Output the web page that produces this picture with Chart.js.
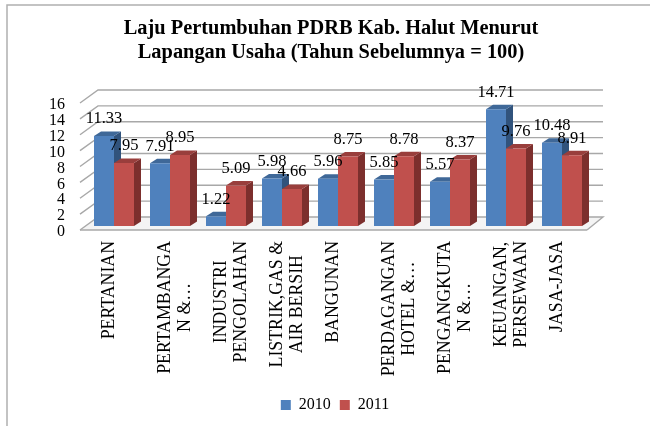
<!DOCTYPE html>
<html><head><meta charset="utf-8">
<style>html,body{margin:0;padding:0;background:#fff}#w{width:650px;height:426px}</style>
<script src="https://cdn.jsdelivr.net/npm/chart.js@4"></script></head>
<body><div id="w"><canvas id="c" width="650" height="426"></canvas></div>
<script>
const categories=[['PERTANIAN'],['PERTAMBANGA','N &…'],['INDUSTRI','PENGOLAHAN'],['LISTRIK,GAS &','AIR BERSIH'],['BANGUNAN'],['PERDAGANGAN','HOTEL &…'],['PENGANGKUTA','N &…'],['KEUANGAN,','PERSEWAAN'],['JASA-JASA']];
const values2010=[11.33,7.91,1.22,5.98,5.96,5.85,5.57,14.71,10.48];
const values2011=[7.95,8.95,5.09,4.66,8.75,8.78,8.37,9.76,8.91];
const seriesNames=['2010','2011'];
const titleLines=['Laju Pertumbuhan PDRB Kab. Halut Menurut','Lapangan Usaha (Tahun Sebelumnya = 100)'];
const FONT='"Liberation Serif",serif';
const CAT_SIZE=17.8;
const faces=[{side:'#31537c',top:'#3f6898'},{side:'#7c2f2d',top:'#993e3c'}];
const DX=7,DY=4.5;
function wrapLabels(scale,fn){const o=scale._computeLabelItems;scale._computeLabelItems=function(a){const items=o.call(this,a);fn(this,items);return items;};}
const scene={id:'scene',
 afterLayout(ch){if(ch.legend){ch.legend.left+=20;}if(ch.titleBlock){ch.titleBlock.left+=6;ch.titleBlock.right+=6;}},
 beforeDraw(ch){const c=ch.ctx;c.save();c.strokeStyle='#b0b0b0';c.lineWidth=1.5;c.beginPath();c.moveTo(7,426);c.lineTo(7,5);c.lineTo(650,5);c.stroke();c.restore();},
 beforeDatasetsDraw(ch){const c=ch.ctx,y=ch.scales.y,a=ch.chartArea;c.save();
  const lf=a.left-6,lb=a.left+12,rf=a.right-3,rb=a.right+13;
  c.fillStyle='#f4f4f4';const y0=y.getPixelForValue(0);
  c.beginPath();c.moveTo(lf,y0+4);c.lineTo(lb,y0-9);c.lineTo(rb,y0-9);c.lineTo(rf,y0+4);c.closePath();c.fill();
  c.lineWidth=1.4;c.strokeStyle='#a8a8a8';
  y.ticks.forEach(t=>{const p=y.getPixelForValue(t.value);c.beginPath();c.moveTo(lf,p+4);c.lineTo(lb,p-9);c.lineTo(rb,p-9);if(t.value===0)c.lineTo(rf,p+4);c.stroke();});
  c.beginPath();c.moveTo(lf,y0+4);c.lineTo(rf,y0+4);c.stroke();
  ch.data.datasets.forEach((d,i)=>{ch.getDatasetMeta(i).data.forEach(b=>{
    const l=b.x-b.width/2,r=b.x+b.width/2,t=b.y,bo=b.base;
    c.fillStyle=faces[i].side;c.beginPath();c.moveTo(r,t);c.lineTo(r+DX,t-DY);c.lineTo(r+DX,bo-DY);c.lineTo(r,bo);c.closePath();c.fill();
    c.fillStyle=faces[i].top;c.beginPath();c.moveTo(l,t);c.lineTo(l+DX,t-DY);c.lineTo(r+DX,t-DY);c.lineTo(r,t);c.closePath();c.fill();
  });});
  c.restore();},
 afterDatasetsDraw(ch){const c=ch.ctx;c.save();c.font='16.5px '+FONT;c.fillStyle='#000';c.textAlign='center';c.textBaseline='middle';
  ch.data.datasets.forEach((d,i)=>{ch.getDatasetMeta(i).data.forEach((b,j)=>{c.fillText(d.data[j].toFixed(2),b.x,b.y-17);});});
  c.restore();}
};
new Chart(document.getElementById('c'),{type:'bar',
 data:{labels:categories,datasets:[
  {label:seriesNames[0],data:values2010,backgroundColor:'#4f81bd',borderWidth:0},
  {label:seriesNames[1],data:values2011,backgroundColor:'#c0504d',borderWidth:0}]},
 options:{responsive:false,animation:false,
  layout:{padding:{left:0,right:0,top:0,bottom:3}},
  datasets:{bar:{categoryPercentage:40/56,barPercentage:1}},
  plugins:{tooltip:{enabled:false},
   title:{display:true,text:titleLines,color:'#000',font:{family:FONT,size:20.4,weight:'bold',lineHeight:1.176},padding:{top:17,bottom:34}},
   legend:{position:'bottom',labels:{boxWidth:10,boxHeight:10,color:'#000',font:{family:FONT,size:16},padding:9}}},
  scales:{
   x:{grid:{display:false},border:{display:false},
      ticks:{minRotation:90,maxRotation:90,autoSkip:false,color:'#000',font:{family:FONT,size:CAT_SIZE,lineHeight:1.13},padding:7},
      afterFit(s){s.height=162;},
      afterUpdate(s){wrapLabels(s,(sc,items)=>{const c=sc.ctx;c.save();c.font=CAT_SIZE+'px '+FONT;items.forEach(it=>{const ls=Array.isArray(it.label)?it.label:[it.label];const w=Math.max(...ls.map(t=>c.measureText(t).width));it.options.textAlign='center';it.options.translation=[it.options.translation[0]-5,it.options.translation[1]+w/2];});c.restore();});}},
   y:{min:0,max:16,grid:{display:false},border:{display:false},
      ticks:{stepSize:2,autoSkip:false,color:'#000',font:{family:FONT,size:16},padding:13},
      afterFit(s){s.width=86;},
      afterUpdate(s){wrapLabels(s,(sc,items)=>{items.forEach(it=>{it.options.translation=[it.options.translation[0],it.options.translation[1]+3];});});}},
   yRight:{position:'right',display:true,min:0,max:16,grid:{display:false},border:{display:false},ticks:{display:false},afterFit(s){s.width=60;}}
  }},
 plugins:[scene]});
</script></body></html>
